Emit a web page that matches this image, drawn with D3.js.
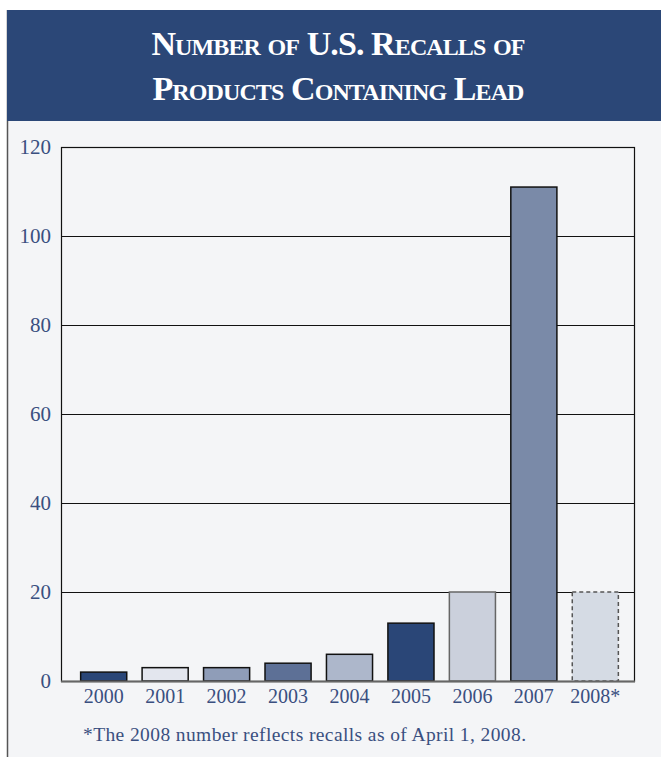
<!DOCTYPE html>
<html>
<head>
<meta charset="utf-8">
<script src="https://cdn.jsdelivr.net/npm/d3@7"></script>
<style>
  body { margin: 0; background: #fff; }
  svg { display: block; }
</style>
</head>
<body>
<script>
var years = ["2000", "2001", "2002", "2003", "2004", "2005", "2006", "2007", "2008*"];
var recalls = [2, 3, 3, 4, 6, 13, 20, 111, 20];
var barColors = ["#2a4677", "#e3e6ee", "#8f9db8", "#5d7096", "#adb7cb", "#2a4677", "#cbd0dc", "#7a8aa8", "#d5dbe4"];
var yTicks = [0, 20, 40, 60, 80, 100, 120];
var titleLines = ["Number of U.S. Recalls of", "Products Containing Lead"];
var footnote = "*The 2008 number reflects recalls as of April 1, 2008.";

var W = 661, H = 757;
var svg = d3.select("body").append("svg").attr("width", W).attr("height", H);
var serif = "'Liberation Serif', 'DejaVu Serif', serif";
var textBlue = "#3a4f80";

// panel background + left border
svg.append("rect").attr("x", 7).attr("y", 10).attr("width", W - 7).attr("height", H - 10).attr("fill", "#f4f5f7");
svg.append("line").attr("x1", 7.5).attr("y1", 10).attr("x2", 7.5).attr("y2", H)
      .attr("stroke", "#555").attr("stroke-width", 1.5);

// header band
svg.append("rect").attr("x", 7).attr("y", 10).attr("width", W - 7).attr("height", 111).attr("fill", "#2b4777");
svg.append("g").selectAll("text")
      .data(titleLines)
      .enter().append("text")
      .attr("x", 338)
      .attr("y", function(d, i){ return 55 + i * 45; })
      .attr("text-anchor", "middle")
      .attr("fill", "#fff")
      .attr("font-family", serif)
      .attr("font-weight", "bold")
      .attr("font-size", 34)
      .style("font-variant", "small-caps")
      .attr("letter-spacing", -0.9)
      .text(function(d){ return d; });

var plot = { left: 61, right: 634, top: 147, bottom: 681 };

var x = d3.scaleBand().domain(years).range([74.5, 624.5]).paddingInner(0.25).paddingOuter(0.1);
var y = d3.scaleLinear().domain([0, 120]).range([plot.bottom, plot.top]);

// gridlines
svg.append("g").selectAll("line")
      .data(yTicks.slice(1, -1))
      .enter().append("line")
      .attr("x1", plot.left).attr("x2", plot.right)
      .attr("y1", function(d){ return Math.round(y(d)) + 0.5; })
      .attr("y2", function(d){ return Math.round(y(d)) + 0.5; })
      .attr("stroke", "#111").attr("stroke-width", 1);

// frame
svg.append("rect")
      .attr("x", plot.left + 0.5).attr("y", plot.top + 0.5)
      .attr("width", plot.right - plot.left).attr("height", plot.bottom - plot.top)
      .attr("fill", "none").attr("stroke", "#111").attr("stroke-width", 1.2);

// bars
svg.append("g").selectAll("rect")
      .data(recalls)
      .enter().append("rect")
      .attr("x", function(d, i){ return x(years[i]); })
      .attr("y", function(d){ return y(d); })
      .attr("width", x.bandwidth())
      .attr("height", function(d){ return y(0) - y(d); })
      .attr("fill", function(d, i){ return barColors[i]; })
      .attr("stroke", function(d, i){ return i === 8 ? "#555" : (i === 6 ? "#666" : "#111"); })
      .attr("stroke-width", 1.5)
      .attr("stroke-dasharray", function(d, i){ return i === 8 ? "4,3" : null; });

// baseline
svg.append("line")
      .attr("x1", plot.left).attr("x2", plot.right + 1)
      .attr("y1", plot.bottom + 0.5).attr("y2", plot.bottom + 0.5)
      .attr("stroke", "#666").attr("stroke-width", 2);

// y labels
var yAxis = d3.axisLeft(y).tickValues(yTicks).tickSize(0).tickPadding(10);
var gy = svg.append("g").attr("transform", "translate(" + plot.left + ",0)").call(yAxis);
gy.select(".domain").remove();
gy.selectAll("text")
      .attr("fill", textBlue)
      .attr("font-family", serif)
      .attr("font-size", 21)
      .attr("dy", "0.3em");

// x labels
var xAxis = d3.axisBottom(x).tickSize(0).tickPadding(8);
var gx = svg.append("g").attr("transform", "translate(0," + plot.bottom + ")").call(xAxis);
gx.select(".domain").remove();
gx.selectAll("text")
      .attr("fill", textBlue)
      .attr("font-family", serif)
      .attr("font-size", 20);

// footnote
svg.append("text")
      .attr("x", 83).attr("y", 741)
      .attr("fill", textBlue)
      .attr("font-family", serif)
      .attr("font-size", 19.5)
      .attr("letter-spacing", 0.4)
      .text(footnote);
</script>
</body>
</html>
